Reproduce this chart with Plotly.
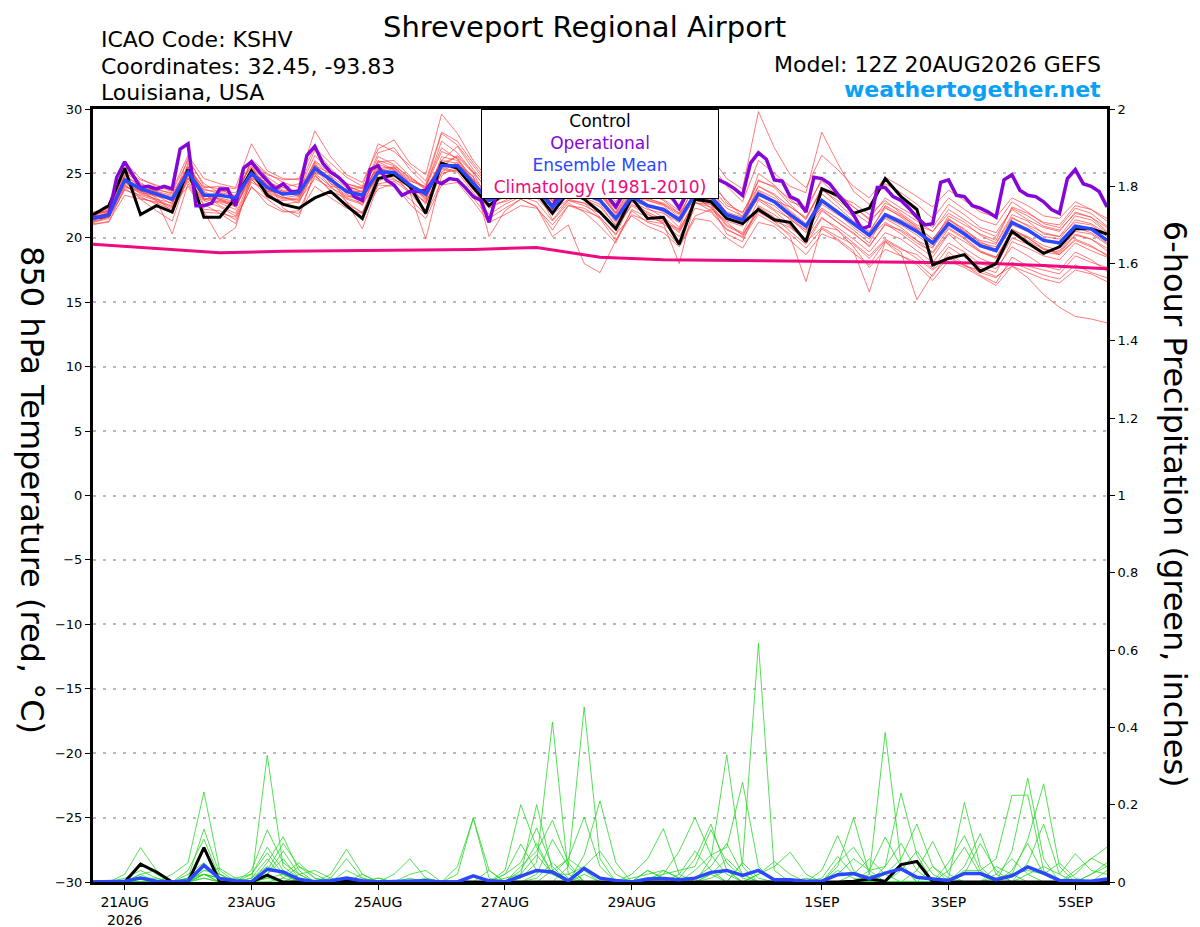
import pandas as pd
import plotly.graph_objs as go

# GEFS plume for KSHV: 850 hPa temperature (left axis) and 6-hour precip (right axis)

start = "2026-08-20 12:00"
end = "2026-09-05 12:00"

tickDates = ["2026-08-21", "2026-08-23", "2026-08-25", "2026-08-27",
             "2026-08-29", "2026-09-01", "2026-09-03", "2026-09-05"]
tickLabels = ["21AUG<br>2026", "23AUG", "25AUG", "27AUG", "29AUG", "1SEP", "3SEP", "5SEP"]

# control run, 6-hourly (deg C)
controlTemp = [21.8, 22.5, 25.4, 21.8, 22.5, 22.0, 25.3, 21.6, 21.6, 23.1, 25.2, 23.3, 22.6, 22.3, 23.1, 23.6,
               22.5, 21.5, 24.6, 24.9, 24.0, 21.9, 25.8, 25.4, 23.9, 22.5, 23.5, 24.0, 23.5, 21.9, 23.6, 23.0,
               22.0, 20.7, 23.1, 21.5, 21.6, 19.5, 23.0, 22.8, 21.5, 21.1, 22.2, 21.4, 21.2, 19.7, 23.8, 23.3,
               21.9, 22.3, 24.6, 23.2, 22.2, 17.9, 18.4, 18.7, 17.4, 18.0, 20.5, 19.6, 18.8, 19.3, 20.7, 20.7,
               20.3]

# ensemble mean, 6-hourly
meanTemp = [21.5, 21.8, 24.5, 23.8, 23.4, 23.0, 25.1, 23.3, 23.3, 23.1, 25.0, 23.9, 23.4, 23.5, 25.4, 24.5,
            23.6, 23.3, 25.1, 25.1, 24.1, 23.4, 25.6, 25.6, 24.2, 22.9, 23.4, 24.0, 23.8, 22.4, 23.6, 23.4,
            22.9, 21.5, 23.2, 22.5, 22.2, 21.4, 23.4, 23.2, 21.8, 21.4, 23.4, 22.8, 21.8, 20.9, 22.9, 22.0,
            21.1, 20.2, 21.8, 21.2, 20.5, 19.6, 21.1, 20.3, 19.4, 19.0, 21.2, 20.6, 19.8, 19.6, 20.9, 20.7,
            19.8]

# operational GFS, 3-hourly
operTemp = [21.6, 21.6, 21.8, 24.7, 25.9, 24.9, 23.9, 24.0, 23.8, 24.0, 23.8, 26.9, 27.3,
            22.5, 22.5, 22.7, 23.8, 23.8, 22.5, 25.4, 25.9, 25.1, 24.4, 23.8, 24.2, 23.6,
            23.6, 26.4, 27.1, 25.8, 25.1, 24.7, 24.1, 23.2, 22.9, 25.3, 25.6, 24.5, 24.1,
            23.3, 23.6, 23.6, 23.7, 24.5, 24.2, 24.6, 24.5, 23.9, 23.2, 22.9, 21.2,
            23.5, 24.0, 24.3, 24.0, 23.8, 23.5, 23.2, 22.4,
            23.6, 24.3, 24.6, 24.3, 24.0, 23.7, 23.2, 22.4,
            23.5, 24.2, 24.5, 24.3, 24.0, 23.6, 23.2, 22.3,
            23.5, 24.2, 24.5, 24.6, 24.5, 24.2, 23.8, 23.3, 25.8, 26.6, 26.1, 24.5, 24.4, 23.2, 22.9, 22.0,
            24.7, 24.6, 24.2, 23.4, 22.7, 21.8, 20.7, 20.9, 23.9, 23.9, 23.2, 22.9, 22.3, 21.6, 21.0, 21.1,
            24.3, 24.5, 23.3, 23.2, 22.5, 22.3, 22.0, 21.6, 24.5, 24.9, 23.7, 23.3, 23.2, 22.8, 22.2, 21.9,
            24.6, 25.3, 24.2, 24.0, 23.6, 22.4]

# 1981-2010 climatology, daily at 12Z
climoTemp = [19.5, 19.15, 18.85, 18.95, 19.0, 19.05, 19.1, 19.25, 18.5, 18.3, 18.25, 18.2, 18.15,
             18.05, 18.05, 17.85, 17.6]

# ensemble members (deg C)
temp01 = [21.8, 22.1, 25.9, 24.6, 24.0, 23.6, 26.0, 24.2, 23.5, 22.9, 26.1, 25.0, 24.3, 23.9, 26.8, 25.4,
          24.1, 23.5, 26.6, 27.0, 25.3, 24.1, 28.1, 27.2, 25.6, 24.0, 24.9, 25.6, 25.0, 23.4, 24.9, 24.5,
          23.6, 21.9, 23.6, 22.6, 22.0, 20.8, 23.9, 24.1, 22.9, 21.6, 24.5, 23.9, 22.6, 21.4, 23.8, 22.7,
          21.6, 20.4, 22.5, 21.8, 20.8, 19.9, 21.4, 20.5, 19.7, 19.1, 20.7, 20.0, 19.2, 18.7, 19.9, 19.4,
          18.6]
temp02 = [21.3, 21.6, 24.1, 23.2, 22.6, 21.9, 24.7, 22.5, 22.9, 22.4, 24.6, 23.1, 22.9, 23.0, 25.9, 24.8,
          23.0, 22.6, 24.4, 24.9, 23.5, 22.0, 25.1, 25.9, 24.4, 22.6, 22.8, 23.3, 23.1, 21.8, 22.9, 22.5,
          21.9, 20.7, 22.6, 22.0, 21.4, 20.5, 22.7, 22.6, 21.0, 20.4, 22.9, 22.1, 21.0, 19.9, 22.1, 21.2,
          20.3, 19.4, 21.0, 20.6, 19.8, 18.8, 20.4, 19.7, 18.9, 18.4, 20.5, 20.0, 19.1, 18.9, 20.3, 19.9,
          19.0]
temp03 = [21.6, 22.0, 25.4, 24.0, 23.7, 23.5, 25.4, 23.9, 24.0, 23.8, 25.5, 24.3, 23.9, 24.2, 25.0, 24.0,
          23.8, 23.9, 25.9, 26.0, 24.8, 23.7, 26.0, 27.1, 25.3, 23.9, 24.3, 24.9, 24.6, 23.0, 24.6, 24.1,
          23.5, 22.3, 24.3, 23.4, 23.0, 22.1, 24.4, 24.0, 22.5, 22.0, 24.0, 23.4, 22.4, 21.6, 23.7, 22.9,
          22.0, 21.1, 22.7, 22.1, 21.3, 20.5, 22.2, 21.4, 20.6, 20.1, 22.3, 21.7, 20.9, 20.6, 21.9, 21.6,
          20.8]
temp04 = [21.0, 21.3, 23.3, 23.0, 22.8, 22.5, 24.0, 22.0, 21.9, 21.6, 23.9, 23.0, 22.1, 21.9, 24.0, 23.1,
          22.3, 21.9, 23.8, 24.2, 22.6, 21.5, 24.1, 24.3, 22.8, 21.2, 21.8, 22.5, 22.3, 21.0, 22.5, 22.3,
          21.5, 19.8, 21.8, 21.3, 21.1, 20.1, 22.3, 22.0, 20.6, 20.1, 22.4, 21.6, 20.5, 19.5, 21.5, 20.8,
          19.9, 18.9, 20.4, 19.9, 19.0, 18.1, 19.6, 18.9, 18.0, 17.6, 19.3, 18.6, 17.8, 17.5, 18.9, 18.3,
          17.4]
temp05 = [21.7, 22.2, 25.2, 24.5, 24.1, 23.7, 26.4, 24.6, 24.2, 23.9, 27.3, 25.2, 24.6, 24.5, 28.3, 26.3,
          24.9, 24.3, 26.9, 27.6, 25.8, 24.9, 29.6, 28.1, 26.0, 24.5, 25.5, 26.3, 25.4, 24.1, 25.6, 25.9,
          24.6, 23.4, 25.3, 24.5, 23.9, 23.0, 25.9, 26.3, 24.6, 23.8, 29.8, 27.0, 24.9, 23.9, 26.4, 25.3,
          24.0, 23.1, 24.7, 24.0, 23.2, 22.4, 23.7, 22.9, 22.0, 21.6, 23.1, 22.5, 21.7, 21.5, 22.8, 22.2,
          21.3]
temp06 = [21.4, 21.7, 24.0, 23.5, 23.0, 22.7, 24.9, 23.1, 22.8, 22.5, 24.7, 23.6, 23.1, 23.3, 25.6, 24.6,
          23.4, 22.9, 25.0, 24.6, 23.6, 22.8, 25.0, 25.3, 23.7, 22.3, 22.9, 23.6, 23.4, 22.1, 23.0, 22.7,
          22.1, 20.7, 22.5, 21.8, 21.3, 20.4, 22.7, 22.4, 20.9, 20.3, 22.1, 21.3, 20.8, 19.8, 21.6, 20.6,
          19.6, 18.6, 19.9, 19.2, 18.4, 17.5, 18.6, 17.8, 17.5, 17.0, 17.8, 16.9, 15.6, 14.6, 13.9, 13.7,
          13.4]
temp07 = [21.9, 22.4, 24.8, 24.1, 23.3, 22.6, 25.5, 23.6, 23.0, 22.7, 25.1, 24.1, 23.6, 23.2, 25.0, 24.8,
          23.9, 23.4, 25.7, 25.3, 24.3, 23.0, 26.3, 26.0, 24.7, 23.1, 23.9, 24.5, 24.2, 22.6, 23.8, 23.8,
          23.3, 21.9, 23.9, 23.1, 22.6, 21.8, 24.0, 23.6, 22.3, 21.7, 23.7, 23.1, 22.0, 21.0, 23.4, 22.4,
          21.3, 20.5, 22.3, 21.7, 20.9, 19.9, 21.5, 20.6, 19.8, 19.5, 21.6, 20.9, 20.1, 19.9, 21.4, 21.1,
          20.3]
temp08 = [21.2, 21.5, 23.7, 23.3, 22.9, 22.3, 25.8, 23.4, 22.5, 21.9, 24.6, 24.4, 23.7, 23.6, 24.9, 23.6,
          23.1, 22.7, 24.9, 25.0, 23.8, 22.7, 25.3, 25.1, 23.5, 21.8, 22.6, 23.2, 22.8, 21.3, 22.7, 22.0,
          20.9, 19.6, 22.2, 21.6, 21.2, 20.7, 22.8, 22.1, 20.7, 20.0, 21.8, 21.1, 20.3, 19.2, 20.7, 19.9,
          19.0, 15.8, 19.7, 18.9, 15.2, 17.2, 18.4, 17.9, 17.3, 16.9, 18.1, 17.6, 17.1, 16.8, 17.9, 17.3,
          16.9]
temp09 = [21.6, 21.9, 24.9, 23.9, 23.1, 22.0, 24.6, 22.9, 22.4, 21.7, 24.3, 23.7, 23.4, 23.7, 26.4, 25.1,
          24.0, 23.6, 26.3, 25.7, 24.6, 23.9, 27.5, 26.6, 25.1, 23.6, 24.2, 24.8, 24.4, 22.8, 24.5, 24.1,
          23.4, 21.8, 23.4, 22.3, 21.6, 20.6, 22.9, 23.0, 21.5, 21.1, 23.6, 22.9, 22.4, 21.5, 23.9, 23.1,
          22.4, 21.4, 22.4, 21.6, 20.7, 19.7, 21.7, 21.0, 20.3, 19.8, 22.4, 21.9, 21.2, 21.0, 22.5, 22.2,
          21.5]
temp10 = [21.4, 21.8, 24.3, 23.6, 23.5, 23.2, 24.6, 22.9, 23.5, 23.3, 25.2, 23.8, 23.1, 22.9, 24.6, 23.9,
          23.2, 23.1, 24.7, 24.5, 24.0, 23.1, 25.4, 25.2, 24.2, 23.0, 23.6, 23.9, 23.6, 21.9, 23.3, 23.1,
          22.6, 20.9, 22.8, 22.2, 21.9, 21.2, 23.0, 22.8, 21.6, 21.1, 23.4, 22.7, 21.6, 20.6, 22.8, 21.9,
          20.8, 19.9, 21.6, 21.0, 20.2, 19.3, 20.8, 20.0, 19.0, 18.5, 20.6, 20.1, 19.4, 19.0, 20.5, 20.3,
          19.5]
temp11 = [22.0, 22.3, 24.6, 23.7, 23.8, 23.4, 25.0, 23.0, 23.1, 22.8, 25.4, 24.0, 23.3, 23.8, 25.8, 24.2,
          23.3, 22.9, 25.4, 25.5, 24.5, 23.8, 25.8, 25.6, 24.1, 22.5, 23.2, 24.2, 23.7, 22.4, 24.2, 23.7,
          23.0, 21.5, 23.7, 23.0, 22.7, 21.9, 23.3, 22.9, 21.7, 21.3, 24.0, 23.3, 22.1, 21.1, 22.3, 21.5,
          20.6, 19.6, 21.9, 21.4, 20.7, 19.5, 21.2, 20.4, 19.5, 19.1, 21.5, 21.0, 20.4, 20.1, 21.2, 21.0,
          20.1]
temp12 = [21.1, 21.2, 23.9, 23.7, 22.9, 20.3, 24.2, 22.0, 19.9, 20.8, 24.9, 24.5, 22.3, 21.6, 25.2, 24.6,
          22.8, 20.7, 24.2, 24.4, 23.5, 19.9, 24.8, 25.7, 24.8, 20.1, 22.1, 23.0, 22.4, 20.1, 21.0, 18.0,
          17.3, 19.8, 22.1, 21.2, 20.8, 19.4, 21.7, 22.2, 21.2, 20.2, 22.0, 21.3, 20.1, 16.6, 20.9, 20.6,
          19.3, 17.7, 19.1, 18.6, 17.9, 16.7, 18.2, 17.7, 17.0, 16.3, 17.8, 17.3, 16.8, 16.5, 17.5, 17.2,
          16.6]
temp13 = [21.5, 21.6, 24.2, 23.0, 22.1, 21.3, 24.9, 22.6, 21.9, 21.1, 24.5, 23.5, 22.6, 22.8, 25.7, 24.2,
          23.7, 22.5, 25.2, 25.5, 24.2, 22.9, 25.8, 26.3, 25.0, 22.8, 23.5, 24.2, 23.7, 21.4, 22.9, 22.7,
          21.6, 20.2, 23.0, 21.9, 21.1, 18.0, 22.9, 22.6, 20.3, 19.7, 22.5, 21.8, 20.9, 19.7, 20.8, 20.1,
          19.5, 18.4, 19.8, 19.1, 18.7, 17.6, 19.3, 18.5, 17.7, 17.3, 19.7, 19.2, 18.6, 18.3, 19.6, 19.0,
          18.5]
temp14 = [21.8, 22.2, 25.5, 24.3, 23.5, 22.8, 26.2, 24.0, 23.8, 23.2, 25.9, 24.9, 24.5, 24.6, 27.0, 25.8,
          24.7, 24.0, 27.3, 26.7, 25.6, 24.4, 28.2, 27.5, 25.8, 24.2, 25.1, 25.7, 25.2, 23.6, 25.1, 25.0,
          24.2, 22.8, 24.8, 24.0, 23.4, 22.5, 25.4, 25.7, 24.0, 22.8, 26.0, 25.0, 24.0, 23.5, 28.2, 25.8,
          23.6, 22.6, 24.2, 23.5, 22.6, 21.5, 23.1, 22.2, 21.4, 21.0, 22.8, 22.0, 21.1, 20.8, 22.3, 21.9,
          20.9]
temp15 = [21.3, 21.9, 24.7, 23.6, 23.2, 23.0, 25.3, 23.3, 23.0, 22.5, 24.8, 23.5, 23.0, 23.1, 25.1, 24.5,
          23.6, 23.6, 25.5, 24.9, 23.9, 23.2, 25.7, 25.5, 24.3, 22.9, 23.7, 24.0, 23.9, 22.2, 23.7, 23.5,
          22.8, 21.2, 23.1, 22.6, 22.3, 21.4, 23.6, 23.3, 21.9, 21.5, 23.1, 22.2, 21.5, 20.4, 22.6, 21.8,
          21.1, 20.2, 21.5, 20.8, 19.8, 19.2, 21.4, 20.7, 19.6, 19.3, 21.0, 20.5, 19.8, 19.5, 20.8, 20.4,
          19.6]
temp16 = [21.5, 21.7, 24.4, 23.5, 23.3, 22.9, 25.6, 23.8, 23.4, 23.0, 26.0, 24.7, 23.9, 23.4, 25.4, 24.0,
          22.8, 21.9, 25.0, 25.4, 24.4, 24.0, 27.0, 26.1, 24.3, 23.2, 23.8, 24.4, 24.0, 22.3, 24.1, 23.7,
          23.1, 21.6, 22.8, 22.5, 22.2, 21.5, 23.6, 23.4, 22.0, 21.6, 23.0, 22.5, 21.4, 20.6, 22.2, 21.2,
          20.4, 19.3, 21.1, 20.3, 19.4, 18.5, 20.3, 19.2, 18.4, 17.9, 20.0, 19.5, 18.9, 18.7, 19.8, 19.3,
          18.7]
temp17 = [21.9, 22.0, 24.5, 23.9, 23.6, 23.0, 25.2, 23.7, 23.6, 23.5, 25.6, 23.6, 23.5, 23.3, 26.0, 25.0,
          24.2, 23.8, 26.0, 25.6, 24.7, 23.9, 26.7, 26.2, 24.5, 22.9, 24.6, 25.3, 24.8, 23.0, 24.4, 24.3,
          23.4, 22.0, 24.0, 23.5, 22.9, 21.9, 24.7, 24.6, 22.7, 21.9, 24.4, 24.0, 23.0, 22.0, 24.6, 23.5,
          22.4, 21.5, 23.1, 22.3, 21.6, 20.8, 22.6, 21.8, 20.8, 20.4, 22.2, 21.4, 20.8, 20.5, 22.0, 21.6,
          20.5]
temp18 = [21.2, 21.6, 23.8, 23.1, 22.7, 22.2, 24.4, 22.2, 22.1, 21.4, 24.0, 22.6, 22.0, 22.1, 24.8, 23.7,
          22.6, 22.0, 24.1, 24.0, 23.0, 21.8, 24.4, 24.6, 23.1, 21.5, 22.3, 23.0, 22.4, 20.6, 22.5, 22.1,
          21.6, 20.3, 21.7, 20.9, 20.4, 19.3, 21.5, 21.3, 20.0, 19.2, 21.2, 20.9, 19.8, 18.7, 20.3, 19.8,
          18.8, 17.9, 19.7, 18.6, 18.1, 17.0, 18.9, 17.9, 17.1, 16.5, 18.5, 17.8, 17.5, 17.2, 18.6, 18.1,
          17.7]
temp19 = [21.7, 22.1, 25.1, 24.2, 23.6, 23.3, 25.5, 23.5, 22.9, 22.6, 25.0, 24.2, 23.6, 23.5, 25.6, 25.0,
          24.2, 23.9, 25.3, 25.1, 24.1, 23.4, 26.0, 25.8, 24.5, 23.4, 24.5, 24.3, 23.5, 22.9, 24.0, 24.3,
          23.5, 22.2, 24.1, 22.9, 22.6, 21.6, 24.2, 23.8, 21.8, 21.2, 25.0, 24.1, 22.8, 22.4, 24.4, 23.2,
          22.7, 21.8, 22.9, 21.9, 21.0, 20.5, 21.9, 21.2, 20.2, 19.6, 21.8, 21.3, 20.3, 20.1, 21.7, 21.4,
          20.4]
temp20 = [21.4, 21.9, 24.3, 23.4, 23.0, 22.4, 25.0, 23.0, 22.7, 22.2, 25.3, 24.1, 23.2, 22.7, 25.3, 24.7,
          23.5, 23.2, 25.9, 25.3, 24.0, 22.6, 25.5, 26.4, 25.1, 23.6, 24.0, 24.0, 24.1, 22.9, 23.4, 23.0,
          22.4, 21.0, 23.2, 22.9, 22.5, 21.3, 23.2, 22.3, 21.3, 20.9, 23.3, 22.9, 21.8, 20.8, 22.9, 22.1,
          21.2, 20.1, 21.2, 20.5, 19.6, 18.9, 20.7, 19.9, 18.9, 18.5, 20.3, 19.8, 19.1, 18.8, 20.2, 19.9,
          19.2]

# 6-hour precipitation (inches)
controlPrecip = [0, 0, 0, 0.046, 0.026, 0, 0, 0.089, 0, 0, 0, 0.018, 0, 0, 0, 0,
                 0.003, 0, 0, 0, 0, 0, 0, 0, 0, 0, 0, 0, 0, 0, 0, 0,
                 0, 0, 0, 0, 0, 0, 0, 0, 0, 0, 0, 0, 0, 0, 0, 0,
                 0.002, 0.008, 0.002, 0.045, 0.053, 0, 0, 0, 0, 0, 0, 0, 0, 0, 0, 0,
                 0]
meanPrecip = [0, 0, 0.002, 0.010, 0.002, 0, 0.003, 0.043, 0.009, 0.003, 0, 0.033, 0.026, 0.007, 0.001, 0.003,
              0.010, 0.003, 0, 0.001, 0.003, 0.003, 0, 0, 0.016, 0.003, 0, 0.016, 0.030, 0.026, 0.003, 0.035,
              0.010, 0.004, 0, 0.008, 0.009, 0.006, 0.010, 0.025, 0.030, 0.017, 0.030, 0.006, 0.006, 0.002, 0.002, 0.019,
              0.022, 0.009, 0.023, 0.034, 0.012, 0.008, 0.004, 0.022, 0.022, 0.006, 0.016, 0.039, 0.023, 0.004, 0.002, 0.002,
              0.008]

precip01 = [0, 0, 0, 0.01, 0, 0.02, 0.05, 0.233, 0.03, 0, 0.01, 0.06, 0.01, 0, 0, 0,
            0, 0, 0, 0, 0, 0, 0, 0, 0, 0, 0, 0.01, 0.05, 0.414, 0.02, 0,
            0, 0, 0, 0, 0, 0, 0.01, 0.04, 0.1, 0.02, 0, 0, 0, 0, 0, 0,
            0, 0.02, 0.387, 0.05, 0, 0, 0, 0, 0, 0, 0.03, 0.1, 0.02, 0, 0, 0,
            0]
precip02 = [0, 0, 0.02, 0.089, 0.03, 0, 0, 0.02, 0.01, 0, 0, 0.328, 0.04, 0.01, 0, 0,
            0, 0, 0, 0, 0, 0, 0, 0, 0, 0, 0, 0.02, 0.2, 0.03, 0, 0,
            0, 0, 0, 0, 0, 0, 0, 0.02, 0, 0.05, 0.618, 0.03, 0, 0, 0, 0,
            0, 0, 0, 0, 0, 0, 0.01, 0.206, 0.04, 0, 0, 0, 0, 0, 0, 0,
            0]
precip03 = [0, 0, 0, 0.02, 0, 0, 0.01, 0.137, 0.02, 0, 0, 0.05, 0.117, 0.03, 0, 0,
            0, 0, 0, 0, 0, 0, 0, 0.02, 0.165, 0.01, 0, 0, 0, 0, 0.04, 0.453,
            0.06, 0, 0, 0, 0, 0, 0, 0, 0, 0.05, 0.01, 0, 0, 0, 0, 0,
            0, 0, 0, 0, 0, 0, 0, 0.03, 0.03, 0.06, 0.224, 0.225, 0.03, 0, 0, 0,
            0]
precip04 = [0, 0, 0, 0.05, 0.02, 0, 0.03, 0.111, 0.01, 0, 0, 0.01, 0, 0, 0, 0.02,
            0.085, 0.02, 0, 0, 0, 0, 0, 0, 0, 0, 0.03, 0.2, 0.09, 0.02, 0, 0,
            0, 0, 0, 0, 0, 0, 0, 0.06, 0.329, 0.04, 0, 0, 0, 0, 0, 0.02,
            0.06, 0.03, 0.04, 0.23, 0.07, 0, 0, 0, 0, 0, 0.02, 0.11, 0.254, 0.04, 0, 0,
            0]
precip05 = [0, 0, 0, 0, 0, 0, 0, 0.02, 0, 0, 0.03, 0.135, 0.05, 0.02, 0, 0,
            0, 0, 0, 0, 0, 0, 0, 0.04, 0.165, 0.03, 0, 0, 0, 0, 0, 0.07,
            0.21, 0.05, 0, 0.01, 0.02, 0.08, 0.167, 0.07, 0.02, 0, 0, 0, 0, 0, 0, 0.04,
            0.166, 0.02, 0, 0, 0, 0, 0, 0, 0, 0, 0.08, 0.269, 0.06, 0, 0, 0,
            0]
precip06 = [0, 0, 0, 0, 0, 0, 0.02, 0.05, 0.01, 0, 0, 0.03, 0.1, 0.04, 0.01, 0,
            0, 0, 0, 0.02, 0.06, 0.01, 0, 0, 0, 0, 0, 0.04, 0.08, 0.16, 0.05, 0,
            0, 0, 0.02, 0.06, 0.138, 0.02, 0, 0, 0, 0, 0, 0, 0, 0, 0.03, 0.12,
            0.03, 0, 0, 0, 0, 0, 0, 0.04, 0.125, 0.02, 0, 0, 0, 0, 0.03, 0.06,
            0.09]
precip07 = [0, 0, 0, 0.01, 0, 0, 0, 0.03, 0.035, 0.01, 0.02, 0.09, 0.03, 0, 0, 0.01,
            0.06, 0.01, 0, 0, 0, 0, 0, 0, 0, 0, 0.02, 0.05, 0.14, 0.04, 0, 0,
            0, 0, 0, 0, 0.02, 0.03, 0.04, 0.135, 0.05, 0.01, 0, 0, 0, 0, 0, 0,
            0, 0.03, 0.116, 0.04, 0, 0, 0.05, 0.12, 0.03, 0, 0, 0, 0, 0, 0, 0,
            0.03]
precip08 = [0, 0, 0, 0.02, 0.03, 0, 0, 0.01, 0, 0, 0, 0.02, 0.08, 0.02, 0, 0,
            0, 0, 0, 0, 0, 0, 0, 0, 0, 0, 0, 0, 0, 0.03, 0.06, 0.168,
            0.04, 0, 0, 0, 0, 0, 0.03, 0.07, 0.09, 0.258, 0.04, 0, 0, 0, 0, 0,
            0, 0, 0.02, 0.06, 0.15, 0.04, 0, 0, 0, 0, 0, 0.05, 0.15, 0.02, 0, 0,
            0]
precip09 = [0, 0, 0, 0, 0, 0, 0.01, 0.04, 0.02, 0, 0, 0.01, 0.02, 0.05, 0.01, 0,
            0, 0, 0, 0, 0, 0, 0, 0, 0, 0, 0, 0.03, 0.1, 0.02, 0, 0,
            0, 0, 0.01, 0.02, 0.03, 0.01, 0.06, 0.15, 0.03, 0, 0, 0, 0, 0, 0.01, 0.066,
            0.02, 0, 0, 0, 0.03, 0.105, 0.02, 0, 0, 0, 0, 0.02, 0.04, 0.02, 0.073, 0.03,
            0.02]
precip10 = [0, 0, 0.01, 0.03, 0.01, 0, 0, 0.01, 0, 0, 0.02, 0.075, 0.02, 0, 0, 0,
            0, 0, 0, 0, 0.02, 0.03, 0, 0, 0, 0, 0, 0, 0.02, 0.11, 0.04, 0,
            0, 0, 0, 0, 0, 0.02, 0.08, 0.03, 0, 0, 0, 0, 0, 0, 0, 0.05,
            0.09, 0.03, 0, 0, 0, 0, 0, 0, 0, 0.02, 0.06, 0.02, 0, 0, 0.02, 0.062,
            0.04]
precip11 = [0, 0, 0, 0, 0, 0, 0, 0.02, 0, 0, 0, 0.02, 0.06, 0.01, 0, 0,
            0.03, 0.01, 0, 0, 0, 0, 0, 0, 0, 0, 0.02, 0.098, 0.03, 0.02, 0.06, 0.03,
            0, 0, 0, 0.03, 0.01, 0, 0, 0.02, 0.06, 0.02, 0, 0, 0, 0, 0, 0,
            0, 0, 0.04, 0.1, 0.03, 0, 0, 0.02, 0.1, 0.03, 0, 0, 0, 0, 0, 0.02,
            0.05]
precip12 = [0, 0, 0, 0, 0, 0, 0, 0.03, 0.02, 0, 0, 0, 0, 0.02, 0.03, 0.01,
            0, 0, 0.01, 0, 0, 0, 0, 0, 0, 0.03, 0, 0, 0, 0, 0, 0.02,
            0, 0, 0, 0.03, 0.01, 0, 0, 0.01, 0.03, 0, 0.02, 0.04, 0.077, 0.02, 0, 0,
            0.02, 0.06, 0.02, 0, 0, 0, 0.03, 0.09, 0.02, 0, 0, 0, 0, 0, 0, 0.02,
            0.04]
precip13 = [0, 0, 0, 0.01, 0.01, 0, 0, 0.02, 0.01, 0, 0.01, 0.04, 0.02, 0, 0, 0,
            0, 0.02, 0, 0, 0, 0.01, 0, 0, 0, 0, 0.01, 0.02, 0.07, 0.02, 0.02, 0.04,
            0.08, 0.02, 0, 0, 0, 0, 0, 0, 0, 0, 0.02, 0.053, 0.02, 0, 0, 0,
            0, 0, 0, 0.03, 0.08, 0.02, 0, 0, 0, 0.01, 0.02, 0.03, 0.02, 0.049, 0.01, 0,
            0]
precip14 = [0, 0, 0, 0, 0, 0, 0.01, 0.02, 0.01, 0.01, 0, 0, 0.01, 0.04, 0.02, 0,
            0, 0, 0.01, 0, 0.01, 0, 0, 0, 0, 0, 0, 0, 0.01, 0.05, 0.01, 0,
            0, 0, 0, 0, 0.03, 0.01, 0, 0, 0, 0, 0, 0, 0, 0.01, 0, 0.03,
            0.01, 0, 0, 0, 0, 0.04, 0.01, 0, 0, 0.04, 0.02, 0, 0, 0, 0, 0,
            0]

tempMembers = [temp01, temp02, temp03, temp04, temp05, temp06, temp07, temp08, temp09, temp10,
               temp11, temp12, temp13, temp14, temp15, temp16, temp17, temp18, temp19, temp20]
precipMembers = [precip01, precip02, precip03, precip04, precip05, precip06, precip07,
                 precip08, precip09, precip10, precip11, precip12, precip13, precip14]

times6 = pd.date_range(start, periods=len(meanTemp), freq="6h")
times3 = pd.date_range(start, periods=len(operTemp), freq="3h")
timesDay = pd.date_range(start, periods=len(climoTemp), freq="24h")

FONT = "DejaVu Sans"
BLACK = "#000000"
PURPLE = "#8606d8"
BLUE = "#2a48ff"
PINK = "#ee0a7f"
RED = "rgba(255,60,60,0.85)"
GREEN = "rgb(40,215,40)"


def line(x, y, color, width, axis="y"):
	return go.Scatter(x=x, y=y, mode="lines", yaxis=axis, hoverinfo="skip",
	                  line=dict(color=color, width=width))


data = []
# temperature spaghetti, then the bold lines on top
for m in tempMembers:
	data.append(line(times6, m, RED, 0.8))
data.append(line(timesDay, climoTemp, PINK, 3))
data.append(line(times6, controlTemp, BLACK, 3))
data.append(line(times3, operTemp, PURPLE, 3.5))
data.append(line(times6, meanTemp, BLUE, 3.5))
# precipitation on the right axis
for p in precipMembers:
	data.append(line(times6, p, GREEN, 0.8, "y2"))
data.append(line(times6, controlPrecip, BLACK, 3, "y2"))
data.append(line(times6, meanPrecip, BLUE, 3.5, "y2"))

legendText = ("Control<br>"
              "<span style='color:" + PURPLE + "'>Operational</span><br>"
              "<span style='color:" + BLUE + "'>Ensemble Mean</span><br>"
              "<span style='color:" + PINK + "'>Climatology (1981-2010)</span>")

annotations = [
	dict(text="Shreveport Regional Airport", x=0.485, y=1.1067, font=dict(size=29)),
	dict(text="ICAO Code: KSHV", x=0.006, y=1.090, xanchor="left", font=dict(size=22)),
	dict(text="Coordinates: 32.45, -93.83", x=0.006, y=1.055, xanchor="left", font=dict(size=22)),
	dict(text="Louisiana, USA", x=0.006, y=1.021, xanchor="left", font=dict(size=22)),
	dict(text="Model: 12Z 20AUG2026 GEFS", x=0.996, y=1.058, xanchor="right", font=dict(size=22)),
	dict(text="<b>weathertogether.net</b>", x=0.996, y=1.025, xanchor="right",
	     font=dict(size=22, color="#0aa0f5")),
	dict(text="850 hPa Temperature (red, °C)", x=-0.060, y=0.507, textangle=90, font=dict(size=32)),
	dict(text="6-hour Precipitation (green, inches)", x=1.067, y=0.488, textangle=90, font=dict(size=32)),
	dict(text=legendText, x=0.5, y=1.0, yanchor="top", width=234, bgcolor="white",
	     bordercolor="black", borderwidth=1, borderpad=1, font=dict(size=17)),
]
for a in annotations:
	a.update(xref="paper", yref="paper", showarrow=False)
	a.setdefault("xanchor", "center")
	a.setdefault("yanchor", "middle")
	a["font"].setdefault("color", "black")
	a["font"]["family"] = FONT

# the page body adds an 8px offset, so the figure is drawn 8px smaller and shifted
layout = go.Layout(
	width=1192, height=919,
	margin=dict(l=85, r=93, t=101, b=45),
	paper_bgcolor="white", plot_bgcolor="white",
	showlegend=False,
	font=dict(family=FONT, color="black"),
	xaxis=dict(
		type="date", range=[start, end], automargin=False,
		tickvals=tickDates, ticktext=tickLabels,
		ticks="outside", ticklen=5, tickcolor="black",
		showline=True, linewidth=3, linecolor="black", mirror=True,
		showgrid=False, zeroline=False, tickfont=dict(size=14)
		),
	yaxis=dict(
		range=[-30, 30], dtick=5, tick0=0, automargin=False,
		ticks="outside", ticklen=5, tickcolor="black",
		showline=True, linewidth=3, linecolor="black", mirror=True,
		showgrid=True, gridcolor="#b8b8b8", griddash="2.5px,7.5px", gridwidth=2,
		zeroline=False, tickfont=dict(size=13)
		),
	yaxis2=dict(
		range=[0, 2], dtick=0.2, tick0=0, overlaying="y", side="right", automargin=False,
		ticks="outside", ticklen=5, tickcolor="black",
		showline=True, linewidth=3, linecolor="black",
		showgrid=False, zeroline=False, tickfont=dict(size=13)
		),
	annotations=annotations,
)

fig = go.Figure(data=data, layout=layout)
fig.write_html("out.html")
